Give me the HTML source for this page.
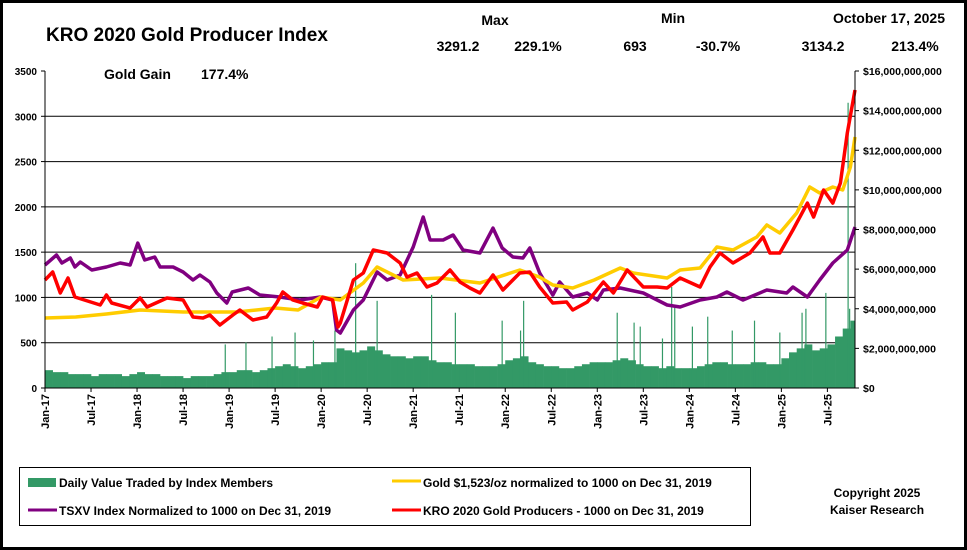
<!DOCTYPE html>
<html><head><meta charset="utf-8"><style>
html,body{margin:0;padding:0;background:#fff}
body{width:967px;height:550px;overflow:hidden}
svg{display:block;font-family:"Liberation Sans",Arial,sans-serif;font-weight:bold}
</style></head><body>
<svg id="chart" width="967" height="550" viewBox="0 0 967 550">
<rect x="1.5" y="1.5" width="964" height="547" fill="#fff" stroke="#000" stroke-width="3"/>
<text x="46" y="41" font-size="19">KRO 2020 Gold Producer Index</text>
<text x="104" y="79" font-size="14">Gold Gain</text>
<text x="201" y="79" font-size="14">177.4%</text>
<text x="495" y="25" font-size="14" text-anchor="middle">Max</text>
<text x="458" y="51" font-size="14" text-anchor="middle">3291.2</text>
<text x="538" y="51" font-size="14" text-anchor="middle">229.1%</text>
<text x="673" y="23" font-size="14" text-anchor="middle">Min</text>
<text x="635" y="51" font-size="14" text-anchor="middle">693</text>
<text x="718" y="51" font-size="14" text-anchor="middle">-30.7%</text>
<text x="945" y="23" font-size="14" text-anchor="end">October 17, 2025</text>
<text x="823" y="51" font-size="14" text-anchor="middle">3134.2</text>
<text x="915" y="51" font-size="14" text-anchor="middle">213.4%</text>
<g id="grid"></g>
<g id="bars"></g>
<g id="lines"></g>
<g id="axes"></g>
<g>
<rect x="19.5" y="467.5" width="731" height="58" fill="#fff" stroke="#000"/>
<rect x="28" y="478" width="28" height="9" fill="#339966"/>
<text x="59" y="487" font-size="12">Daily Value Traded by Index Members</text>
<line x1="28" y1="510" x2="57" y2="510" stroke="#800080" stroke-width="3"/>
<text x="59" y="515" font-size="12">TSXV Index Normalized to 1000 on Dec 31, 2019</text>
<line x1="392" y1="481" x2="421" y2="481" stroke="#FFCC00" stroke-width="3"/>
<text x="423" y="487" font-size="12">Gold $1,523/oz normalized to 1000 on Dec 31, 2019</text>
<line x1="392" y1="510" x2="421" y2="510" stroke="#FF0000" stroke-width="3"/>
<text x="423" y="515" font-size="12">KRO 2020 Gold Producers - 1000 on Dec 31, 2019</text>
</g>
<text x="877" y="497" font-size="12" text-anchor="middle">Copyright 2025</text>
<text x="877" y="514" font-size="12" text-anchor="middle">Kaiser Research</text>
</svg>
<script>
// x positions are months since Jan-2017
const goldMonths = [0,4,8,12.4,18,25,30,33,36,38.5,41.5,43.3,46.7,51.5,56.7,61.9,64.5,66.2,68.8,71.6,75,76.7,81.1,82.8,85.4,87.6,89.7,92.8,94.1,95.8,98,99.7,101,102.7,104,105,105.6];
const goldValues = [773,784,817,861,839,839,883,861,1005,972,1159,1336,1192,1214,1159,1303,1225,1137,1104,1192,1325,1270,1214,1303,1325,1557,1524,1667,1800,1711,1932,2219,2153,2219,2186,2440,2771];
const kroMonths = [0,1,2,3,3.9,7.2,8,8.7,11.1,12.4,13.3,15.9,18,19.3,20.6,21.5,22.8,24.5,25.4,27.1,28.9,30.2,31,32.3,33.6,35.5,36.2,37.5,38.2,38.5,40.2,41.5,42.8,44.6,46.3,47.2,48.5,49.8,51.1,52.8,54.1,55.4,56.7,58.4,59.7,61.9,63.2,64.5,66.2,68,68.8,70.7,72.8,74.1,75.9,78,79.8,81.1,82.8,85.4,86.7,88,89.7,91.9,93.6,94.5,95.8,97.5,99.4,100.2,101.5,102.7,103.7,104.6,105.6];
const kroValues = [1192,1281,1049,1214,1005,916,1027,938,883,994,894,994,972,784,773,806,696,806,861,751,784,938,1060,972,938,894,1005,972,673,718,1192,1270,1524,1490,1380,1225,1270,1115,1159,1303,1170,1104,1049,1248,1082,1270,1281,1115,938,949,861,949,1170,1049,1303,1115,1115,1104,1214,1115,1336,1490,1380,1490,1667,1490,1490,1744,2042,1888,2186,2042,2263,2815,3290];
const tsxvMonths = [0,1.5,2.2,3.3,3.9,4.6,6.1,8,9.8,11.1,12.1,13,14.3,15,16.7,18,19.3,20.2,21.5,22.4,23.7,24.4,26.5,28,30.6,33.2,35.9,37.5,38,38.5,40.2,41.5,43.3,44.6,46.3,48,49.3,50.2,51.9,53.2,54.5,56.7,58.4,59.6,61,62.3,63.2,64.5,66.2,67.1,68.8,70.7,72,72.8,75,78,81.1,82.8,85.4,87.6,88.9,91,94.1,96.7,97.5,99.4,101,102.7,104.6,105.6];
const tsxvValues = [1358,1468,1380,1435,1336,1391,1303,1336,1380,1358,1600,1413,1446,1336,1336,1281,1192,1248,1170,1049,938,1060,1104,1027,1005,972,1005,972,640,607,861,972,1281,1192,1248,1557,1888,1634,1634,1689,1524,1490,1766,1546,1446,1435,1546,1270,1027,1170,1005,1049,972,1082,1104,1049,916,894,972,1005,1060,972,1082,1049,1115,1005,1192,1380,1524,1777];
// monthly typical daily value traded, $ billions (Jan-17 .. Oct-25)
const volValues = [0.9,0.8,0.8,0.7,0.7,0.7,0.6,0.7,0.7,0.7,0.6,0.7,
0.8,0.7,0.7,0.6,0.6,0.6,0.5,0.6,0.6,0.6,0.7,0.8,
0.8,0.9,0.9,0.8,0.9,1.0,1.1,1.2,1.1,1.0,1.1,1.2,
1.3,1.3,2.0,1.9,1.8,1.9,2.1,1.9,1.7,1.6,1.6,1.5,
1.6,1.6,1.4,1.3,1.3,1.2,1.2,1.2,1.1,1.1,1.1,1.2,
1.4,1.5,1.6,1.3,1.2,1.1,1.1,1.0,1.0,1.1,1.2,1.3,
1.3,1.3,1.4,1.5,1.4,1.2,1.1,1.1,1.0,1.1,1.0,1.0,
1.0,1.1,1.2,1.3,1.3,1.2,1.2,1.2,1.3,1.3,1.2,1.2,
1.5,1.8,2.0,2.2,1.9,2.0,2.2,2.6,3.0,3.4];
const spikeMonths = [23.5,26.2,29.6,32.6,35,37.8,40.5,43.3,50.4,53.5,59.6,62,62.4,74.6,76.8,77.6,80.5,81.7,82.1,84.4,86.4,89.6,92.5,95.8,98.7,99.2,101.8,104.7,104.9];
const spikeValues = [2.2,2.3,2.6,2.8,2.4,2.9,6.3,4.4,4.7,3.8,3.4,2.9,4.4,3.8,3.3,3.1,2.5,5.1,4.1,3.1,3.6,2.9,3.4,2.8,3.8,4.0,4.8,14.4,4.0];
const leftTicks = [0,500,1000,1500,2000,2500,3000,3500];
const rightTicks = [0,2,4,6,8,10,12,14,16];
const xTickLabels = ["Jan-17","Jul-17","Jan-18","Jul-18","Jan-19","Jul-19","Jan-20","Jul-20","Jan-21","Jul-21","Jan-22","Jul-22","Jan-23","Jul-23","Jan-24","Jul-24","Jan-25","Jul-25"];

const NS="http://www.w3.org/2000/svg";
const X0=45,X1=855,YT=71,YB=388,MTOT=105.6;
const xs=m=>X0+m*(X1-X0)/MTOT;
const yl=v=>YB-v*(YB-YT)/3500;
const yr=v=>YB-v*(YB-YT)/16;
function mk(tag,attrs,parent){const e=document.createElementNS(NS,tag);for(const k in attrs)e.setAttribute(k,attrs[k]);parent.appendChild(e);return e;}
const grid=document.getElementById('grid'),bars=document.getElementById('bars'),lines=document.getElementById('lines'),axes=document.getElementById('axes');
leftTicks.forEach(t=>{
  if(t>0&&t<3500){const g=mk('line',{x1:X0,x2:X1,y1:yl(t),y2:yl(t),stroke:'#000','stroke-width':1},grid);
  
  }
  const tk=mk('line',{x1:X0-4,x2:X0,y1:yl(t),y2:yl(t),stroke:'#000'},axes);
  
  
  const tx=mk('text',{x:X0-8,y:yl(t)+4,'font-size':10,'text-anchor':'end'},axes);tx.textContent=t;
  
  
});
rightTicks.forEach(t=>{
  const tk=mk('line',{x1:X1,x2:X1+4,y1:yr(t),y2:yr(t),stroke:'#000'},axes);
  
  
  const tx=mk('text',{x:X1+8,y:yr(t)+4,'font-size':10.5},axes);
  tx.textContent='$'+(t===0?'0':(t*1e9).toLocaleString('en-US'));
  
  
});
xTickLabels.forEach((l,i)=>{
  const x=xs(i*6);
  const tk=mk('line',{x1:x,x2:x,y1:YB,y2:YB+4,stroke:'#000'},axes);
  
  
  const tx=mk('text',{x:0,y:0,'font-size':11,'text-anchor':'end',transform:`translate(${x+4},${YB+6}) rotate(-90)`},axes);tx.textContent=l;
  
  
});
const mw=(X1-X0)/MTOT;
volValues.forEach((v,i)=>{
  const b=mk('rect',{x:xs(i),y:yr(v),width:Math.min(mw+0.3,X1-xs(i)),height:YB-yr(v),fill:'#339966'},bars);
  
  
});
spikeMonths.forEach((m,i)=>{
  const b=mk('line',{x1:xs(m),x2:xs(m),y1:yr(spikeValues[i]),y2:YB,stroke:'#339966','stroke-width':1.2},bars);
  
  
});
function line(ms,vs,col,name){
  const p=ms.map((m,i)=>xs(m).toFixed(1)+','+yl(vs[i]).toFixed(1)).join(' ');
  const e=mk('polyline',{points:p,fill:'none',stroke:col,'stroke-width':3.5,'stroke-linejoin':'round'},lines);
  
  
}
line(tsxvMonths,tsxvValues,'#800080','tsxv-line');
line(goldMonths,goldValues,'#FFCC00','gold-line');
line(kroMonths,kroValues,'#FF0000','kro-line');
[['left-axis',X0,YT,X0,YB],['right-axis',X1,YT,X1,YB],['x-axis',X0,YB,X1,YB]].forEach(a=>{
  const e=mk('line',{x1:a[1],y1:a[2],x2:a[3],y2:a[4],stroke:'#000','stroke-width':1},axes);
  
  
});
</script>
</body></html>
